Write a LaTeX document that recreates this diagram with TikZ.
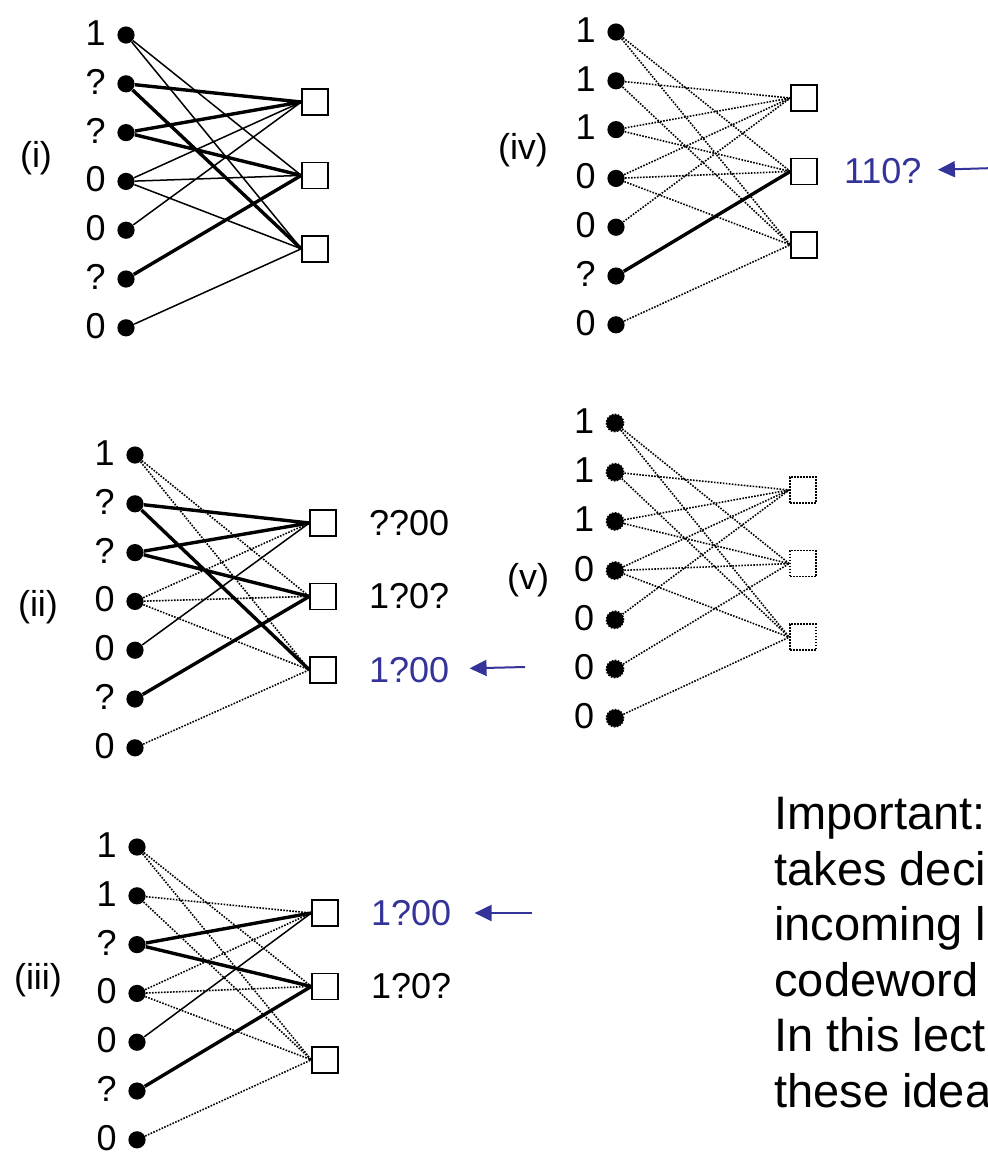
\documentclass[tikz,border=0pt]{standalone}
\usepackage{fontspec}
\setmainfont{Liberation Sans}
\usepackage{tikz}
\usetikzlibrary{arrows.meta, positioning}
\usepackage{xcolor}
\definecolor{msgblue}{RGB}{51,51,153}

\begin{document}
\begin{tikzpicture}[
x=0.5pt, y=-0.5pt,
>={Triangle[length=8.5pt,width=8pt]},
every node/.style={font=\fontsize{18}{22}\selectfont},
bitnode/.style={circle, fill, inner sep=0pt, minimum size=8.6pt,
  label={[inner sep=0pt, label distance=5.5pt, yshift=1pt]left:#1}},
chknode/.style={draw, rectangle, line width=0.7pt, inner sep=0pt, minimum size=13pt},
chklabel/.style={inner sep=0pt},
thickline/.style={line width=1.7pt},
thinline/.style={line width=0.75pt},
dotline/.style={line width=0.8pt, dash pattern=on 0.8pt off 0.7pt},
msgarrow/.style={msgblue, line width=1pt, ->}
]
\useasboundingbox (0,0) rectangle (987,1158);

% (i)
\node (tagi) at (36,158) {(i)};
\node[bitnode=1] (a1) at (126,35) {};
\node[bitnode=?] (a2) [below=15.4pt of a1] {};
\node[bitnode=?] (a3) [below=15.4pt of a2] {};
\node[bitnode=0] (a4) [below=15.4pt of a3] {};
\node[bitnode=0] (a5) [below=15.4pt of a4] {};
\node[bitnode=?] (a6) [below=15.4pt of a5] {};
\node[bitnode=0] (a7) [below=15.4pt of a6] {};
\node[chknode] (ac1) at (315,102) {};
\node[chknode] (ac2) [below=23pt of ac1] {};
\node[chknode] (ac3) [below=23pt of ac2] {};

\draw[thinline] (a1) -- (ac2.west) (a1) -- (ac3.west)
  (a4) -- (ac1.west) (a4) -- (ac2.west) (a4) -- (ac3.west)
  (a5) -- (ac1.west) (a7) -- (ac3.west);
\draw[thickline] (a2) -- (ac1.west) (a2) -- (ac3.west)
  (a3) -- (ac1.west) (a3) -- (ac2.west) (a6) -- (ac2.west);

% (ii)
\node (tagii) at (38,607) {(ii)};
\node[bitnode=1] (b1) at (135,455) {};
\node[bitnode=?] (b2) [below=15.4pt of b1] {};
\node[bitnode=?] (b3) [below=15.4pt of b2] {};
\node[bitnode=0] (b4) [below=15.4pt of b3] {};
\node[bitnode=0] (b5) [below=15.4pt of b4] {};
\node[bitnode=?] (b6) [below=15.4pt of b5] {};
\node[bitnode=0] (b7) [below=15.4pt of b6] {};
\node[chknode] (bc1) at (323,523) {};
\node[chknode] (bc2) [below=23pt of bc1] {};
\node[chknode] (bc3) [below=23pt of bc2] {};
\node[chklabel] (bl1) [right=16pt of bc1] {??00};
\node[chklabel] (bl2) [right=16pt of bc2] {1?0?};
\node[chklabel, msgblue] (bl3) [right=16pt of bc3] {1?00};
\coordinate (barr) at (525,667);

\draw[dotline] (b1) -- (bc2.west) (b1) -- (bc3.west)
  (b4) -- (bc1.west) (b4) -- (bc2.west) (b4) -- (bc3.west)
  (b7) -- (bc3.west);
\draw[thinline] (b5) -- (bc1.west);
\draw[thickline] (b2) -- (bc1.west) (b2) -- (bc3.west)
  (b3) -- (bc1.west) (b3) -- (bc2.west) (b6) -- (bc2.west);
\draw[msgarrow, shorten >=10pt] (barr) -- (bl3);

% (iii)
\node (tagiii) at (38,980) {(iii)};
\node[bitnode=1] (c1) at (137,847) {};
\node[bitnode=1] (c2) [below=15.4pt of c1] {};
\node[bitnode=?] (c3) [below=15.4pt of c2] {};
\node[bitnode=0] (c4) [below=15.4pt of c3] {};
\node[bitnode=0] (c5) [below=15.4pt of c4] {};
\node[bitnode=?] (c6) [below=15.4pt of c5] {};
\node[bitnode=0] (c7) [below=15.4pt of c6] {};
\node[chknode] (cc1) at (325,913) {};
\node[chknode] (cc2) [below=23pt of cc1] {};
\node[chknode] (cc3) [below=23pt of cc2] {};
\node[chklabel, msgblue] (cl1) [right=16pt of cc1] {1?00};
\node[chklabel] (cl2) [right=16pt of cc2] {1?0?};
\coordinate (carr) at (532,913);

\draw[dotline] (c1) -- (cc2.west) (c1) -- (cc3.west)
  (c2) -- (cc1.west) (c2) -- (cc3.west)
  (c4) -- (cc1.west) (c4) -- (cc2.west) (c4) -- (cc3.west)
  (c7) -- (cc3.west);
\draw[thinline] (c5) -- (cc1.west);
\draw[thickline] (c3) -- (cc1.west) (c3) -- (cc2.west) (c6) -- (cc2.west);
\draw[msgarrow, shorten >=11.5pt] (carr) -- (cl1);

% (iv)
\node (tagiv) at (523,150) {(iv)};
\node[bitnode=1] (d1) at (616,32) {};
\node[bitnode=1] (d2) [below=15.4pt of d1] {};
\node[bitnode=1] (d3) [below=15.4pt of d2] {};
\node[bitnode=0] (d4) [below=15.4pt of d3] {};
\node[bitnode=0] (d5) [below=15.4pt of d4] {};
\node[bitnode=?] (d6) [below=15.4pt of d5] {};
\node[bitnode=0] (d7) [below=15.4pt of d6] {};
\node[chknode] (dc1) at (804,98) {};
\node[chknode] (dc2) [below=23pt of dc1] {};
\node[chknode] (dc3) [below=23pt of dc2] {};
\node[chklabel, msgblue] (dl2) [right=13pt of dc2] {110?};
\coordinate (darr) at (995,168);

\draw[dotline] (d1) -- (dc2.west) (d1) -- (dc3.west)
  (d2) -- (dc1.west) (d2) -- (dc3.west)
  (d3) -- (dc1.west) (d3) -- (dc2.west)
  (d4) -- (dc1.west) (d4) -- (dc2.west) (d4) -- (dc3.west)
  (d5) -- (dc1.west) (d7) -- (dc3.west);
\draw[thickline] (d6) -- (dc2.west);
\draw[msgarrow, shorten >=8pt] (darr) -- (dl2);

% (v)
\node (tagv) at (528,580) {(v)};
\node[bitnode=1, draw, dotline] (e1) at (615,423) {};
\node[bitnode=1, draw, dotline] (e2) [below=15.2pt of e1] {};
\node[bitnode=1, draw, dotline] (e3) [below=15.2pt of e2] {};
\node[bitnode=0, draw, dotline] (e4) [below=15.2pt of e3] {};
\node[bitnode=0, draw, dotline] (e5) [below=15.2pt of e4] {};
\node[bitnode=0, draw, dotline] (e6) [below=15.2pt of e5] {};
\node[bitnode=0, draw, dotline] (e7) [below=15.2pt of e6] {};
\node[chknode, dotline] (ec1) at (803,490) {};
\node[chknode, dotline] (ec2) [below=23pt of ec1] {};
\node[chknode, dotline] (ec3) [below=23pt of ec2] {};

\draw[dotline] (e1) -- (ec2.west) (e1) -- (ec3.west)
  (e2) -- (ec1.west) (e2) -- (ec3.west)
  (e3) -- (ec1.west) (e3) -- (ec2.west)
  (e4) -- (ec1.west) (e4) -- (ec2.west) (e4) -- (ec3.west)
  (e5) -- (ec1.west) (e6) -- (ec2.west) (e7) -- (ec3.west);

\node[anchor=north west, align=left, inner sep=0pt,
  font=\fontsize{23.5}{27.75}\selectfont] (note) at (774,797)
  {Important:\\takes deci\\incoming l\\codeword\\In this lect\\these idea};

\end{tikzpicture}
\end{document}
